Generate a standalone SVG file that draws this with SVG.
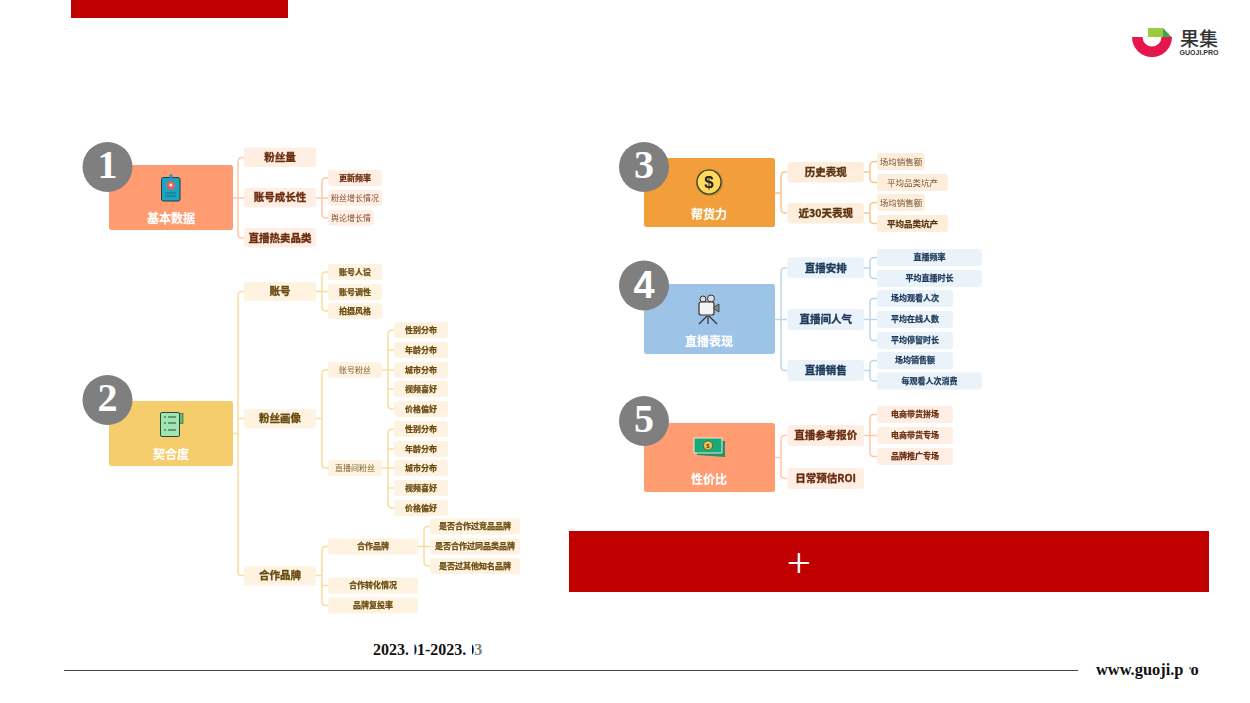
<svg xmlns="http://www.w3.org/2000/svg" width="1250" height="703" viewBox="0 0 1250 703">
<style>
text{font-family:"Noto Sans CJK SC","Noto Sans",sans-serif;text-anchor:middle;dominant-baseline:central;font-weight:700}
.n{filter:url(#b)}
.m,.b,.s,.s3{transform:translateY(-1px)}
.m{font-size:12px;fill:#fff;stroke:#fff;stroke-width:.2px}
.b{font-size:10.5px;stroke-width:.35px}.s,.s3{stroke-width:.25px}.s{font-size:8px}.s3{font-size:8.5px}
.thin{font-weight:400;opacity:.85;stroke:none !important}
.dg{font-family:"Liberation Serif",serif;font-size:40px;fill:#fff;dominant-baseline:auto;font-weight:700}
.ft{font-family:"Liberation Serif",serif;font-size:16px;fill:#111;text-anchor:start;dominant-baseline:auto}
.c{fill:none;stroke-width:1.5}
.or{fill:#ffeee4}.or+text{fill:#6b2e12;stroke:#6b2e12}
.ye{fill:#fdf3e0}.ye+text{fill:#6b4a10;stroke:#6b4a10}
.am{fill:#fdeedc}.am+text{fill:#5b3410;stroke:#5b3410}
.bl{fill:#eaf2fa}.bl+text{fill:#1e3a5a;stroke:#1e3a5a}
.badge{fill:#7f7f7f}
</style>
<defs><filter id="b" x="-10%" y="-30%" width="120%" height="160%"><feGaussianBlur stdDeviation="0.35"/></filter></defs>

<rect id="top-bar" x="71" y="0" width="217" height="18" fill="#c00000"/>
<g id="logo">
<path d="M1132 37H1142.500A9.500 9.500 0 0 0 1161.500 37H1172A20 20 0 0 1 1132 37Z" fill="#e8174b"/>
<path d="M1148 28H1163V37H1148Z" fill="#9ccb3b"/>
<path d="M1163 28L1171.500 37H1163Z" fill="#3aa655"/>
<text x="1199" y="37" style="font-size:19px;font-weight:500;fill:#333">果集</text>
<text x="1199" y="52" style="font-family:'Liberation Sans',sans-serif;font-size:7px;fill:#333">GUOJI.PRO</text>
</g>

<g id="connectors" class="n">
<g stroke="#ffc9a8" class="c">
<path class="c" d="M233 198H244M244 157.500H242Q238 157.500 238 161.500V234Q238 238 242 238H244"/>
<path class="c" d="M316 198H328M328 178H326Q322 178 322 182V214Q322 218 326 218H328"/>
<path class="c" d="M775 457.500H781M787 435.500H785Q781 435.500 781 439.500V474.500Q781 478.500 785 478.500H787"/>
<path class="c" d="M864 435.500H877M877 414.500H874Q870 414.500 870 418.500V452.500Q870 456.500 874 456.500H877"/>
</g>
<g stroke="#fbdd9b" class="c">
<path class="c" d="M233 433.500H238M244 291.500H242Q238 291.500 238 295.500V571.500Q238 575.500 242 575.500H244M238 418.500H244"/>
<path class="c" d="M316 291.500H328M328 272H326Q322 272 322 276V307Q322 311 326 311H328"/>
<path class="c" d="M316 418.500H322M328 370H326Q322 370 322 374V464Q322 468 326 468H328"/>
<path class="c" d="M382 370H394M394 330H392Q388 330 388 334V405Q388 409 392 409H394M388 350H394M388 389H394"/>
<path class="c" d="M382 468H394M394 429H392Q388 429 388 433V504Q388 508 392 508H394M388 449H394M388 488H394"/>
<path class="c" d="M316 575.500H322M328 546.500H326Q322 546.500 322 550.500V601.500Q322 605.500 326 605.500H328M322 585.500H328"/>
<path class="c" d="M418 546.500H430M430 526.500H428Q424 526.500 424 530.500V562Q424 566 428 566H430"/>
</g>
<g stroke="#f7c88f" class="c">
<path class="c" d="M775 193H781M787 172H785Q781 172 781 176V209Q781 213 785 213H787"/>
<path class="c" d="M864 172H870M877 161.500H874.500Q870 161.500 870 165.500V178.500Q870 182.500 874 182.500H877"/>
<path class="c" d="M864 213H870M877 202.500H874.500Q870 202.500 870 206.500V219.500Q870 223.500 874 223.500H877"/>
</g>
<g stroke="#bbd7ee" class="c">
<path class="c" d="M775 319.500H787M787 268H785Q781 268 781 272V366.500Q781 370.500 785 370.500H787"/>
<path class="c" d="M864 268H870M877 257.500H874.500Q870 257.500 870 261.500V274.500Q870 278.500 874 278.500H877"/>
<path class="c" d="M864 319.500H877M877 298.500H874Q870 298.500 870 302.500V336.500Q870 340.500 874 340.500H877"/>
<path class="c" d="M864 370.500H870M877 360.500H874.500Q870 360.500 870 364.500V377Q870 381 874 381H877"/>
</g>
</g>

<g id="root-1" class="n"><rect x="109" y="165" width="124" height="65" rx="2.500" fill="#ff9c71"/><text class="m" x="171" y="218">基本数据</text>
<rect x="161.500" y="177.500" width="18.500" height="23.500" rx="2" fill="#1fa5be" stroke="#1d3a4a"/><rect x="169.500" y="174" width="3" height="6" rx="1.500" fill="#2f8fc0"/><circle cx="170.800" cy="185.500" r="4.300" fill="#e85b5b"/><circle cx="170.800" cy="185" r="1.500" fill="#fff"/><path d="M165 193H176M165 196H176" stroke="#0f6f86"/></g>
<g id="badge-1"><circle class="badge" cx="107.500" cy="167" r="25"/><text class="dg" x="107.500" y="178">1</text></g>
<g id="n1-1" class="n"><rect class="or" x="244" y="147.500" width="72" height="19.500" rx="3"/><text class="b" x="280" y="157.500">粉丝量</text></g>
<g id="n1-2" class="n"><rect class="or" x="244" y="188" width="72" height="19.500" rx="3"/><text class="b" x="280" y="197.500">账号成长性</text></g>
<g id="n1-3" class="n"><rect class="or" x="244" y="228" width="72" height="19.500" rx="3"/><text class="b" x="280" y="238">直播热卖品类</text></g>
<g id="n1-2-1" class="n"><rect class="or" x="328" y="170" width="54" height="16" rx="3"/><text class="s" x="355" y="178">更新频率</text></g>
<g id="n1-2-2" class="n"><rect class="or" x="328" y="190" width="54" height="16" rx="3"/><text class="s thin" x="355" y="198">粉丝增长情况</text></g>
<g id="n1-2-3" class="n"><rect class="or" x="328" y="210" width="46" height="15.500" rx="3"/><text class="s thin" x="351" y="218">舆论增长情</text></g>

<g id="root-2" class="n"><rect x="109" y="401" width="124" height="65" rx="2.500" fill="#f6cd6d"/><text class="m" x="171" y="454">契合度</text>
<rect x="177" y="413.500" width="6" height="10" fill="#5bbf7a" stroke="#2b4a3c" stroke-width=".6"/><rect x="160.500" y="412.500" width="19" height="24" rx="1.500" fill="#9fe6b0" stroke="#2b4a3c"/><path d="M164 417H166M168 417H176M164 423H166M168 423H176M164 430H166M168 430H176" stroke="#2b4a3c"/></g>
<g id="badge-2"><circle class="badge" cx="107.500" cy="400" r="25"/><text class="dg" x="107.500" y="411">2</text></g>
<g id="n2-1" class="n"><rect class="ye" x="244" y="282" width="72" height="19" rx="3"/><text class="b" x="280" y="291.500">账号</text></g>
<g id="n2-2" class="n"><rect class="ye" x="244" y="409" width="72" height="19.500" rx="3"/><text class="b" x="280" y="418.500">粉丝画像</text></g>
<g id="n2-3" class="n"><rect class="ye" x="244" y="566" width="72" height="19.500" rx="3"/><text class="b" x="280" y="575.500">合作品牌</text></g>
<g id="n2-1-1" class="n"><rect class="ye" x="328" y="264" width="54" height="16" rx="3"/><text class="s" x="355" y="272">账号人设</text></g>
<g id="n2-1-2" class="n"><rect class="ye" x="328" y="284" width="54" height="16" rx="3"/><text class="s" x="355" y="292">账号调性</text></g>
<g id="n2-1-3" class="n"><rect class="ye" x="328" y="303" width="54" height="16" rx="3"/><text class="s" x="355" y="311">拍摄风格</text></g>
<g id="n2-2-1" class="n"><rect class="ye" x="328" y="362" width="54" height="16" rx="3"/><text class="s thin" x="355" y="370">账号粉丝</text></g>
<g id="n2-2-2" class="n"><rect class="ye" x="328" y="460" width="54" height="16" rx="3"/><text class="s thin" x="355" y="468">直播间粉丝</text></g>
<g id="n2-a1" class="n"><rect class="ye" x="394" y="322" width="54" height="16" rx="3"/><text class="s" x="421" y="330">性别分布</text></g>
<g id="n2-a2" class="n"><rect class="ye" x="394" y="342" width="54" height="16" rx="3"/><text class="s" x="421" y="350">年龄分布</text></g>
<g id="n2-a3" class="n"><rect class="ye" x="394" y="362" width="54" height="16" rx="3"/><text class="s" x="421" y="370">城市分布</text></g>
<g id="n2-a4" class="n"><rect class="ye" x="394" y="381" width="54" height="16" rx="3"/><text class="s" x="421" y="389">视频喜好</text></g>
<g id="n2-a5" class="n"><rect class="ye" x="394" y="401" width="54" height="16" rx="3"/><text class="s" x="421" y="409">价格偏好</text></g>
<g id="n2-b1" class="n"><rect class="ye" x="394" y="421" width="54" height="16" rx="3"/><text class="s" x="421" y="429">性别分布</text></g>
<g id="n2-b2" class="n"><rect class="ye" x="394" y="441" width="54" height="16" rx="3"/><text class="s" x="421" y="449">年龄分布</text></g>
<g id="n2-b3" class="n"><rect class="ye" x="394" y="460" width="54" height="16" rx="3"/><text class="s" x="421" y="468">城市分布</text></g>
<g id="n2-b4" class="n"><rect class="ye" x="394" y="480" width="54" height="16" rx="3"/><text class="s" x="421" y="488">视频喜好</text></g>
<g id="n2-b5" class="n"><rect class="ye" x="394" y="500" width="54" height="16" rx="3"/><text class="s" x="421" y="508">价格偏好</text></g>
<g id="n2-3-1" class="n"><rect class="ye" x="328" y="538.500" width="90" height="16" rx="3"/><text class="s" x="373" y="546.500">合作品牌</text></g>
<g id="n2-3-2" class="n"><rect class="ye" x="328" y="577.500" width="90" height="16" rx="3"/><text class="s" x="373" y="585.500">合作转化情况</text></g>
<g id="n2-3-3" class="n"><rect class="ye" x="328" y="597.500" width="90" height="16" rx="3"/><text class="s" x="373" y="605.500">品牌复投率</text></g>
<g id="n2-c1" class="n"><rect class="ye" x="430" y="518.500" width="90" height="16" rx="3"/><text class="s" x="475" y="526.500">是否合作过竞品品牌</text></g>
<g id="n2-c2" class="n"><rect class="ye" x="430" y="538.500" width="90" height="16" rx="3"/><text class="s" x="475" y="546.500">是否合作过同品类品牌</text></g>
<g id="n2-c3" class="n"><rect class="ye" x="430" y="558" width="90" height="16" rx="3"/><text class="s" x="475" y="566">是否过其他知名品牌</text></g>

<g id="root-3" class="n"><rect x="644" y="158" width="131" height="69" rx="2.500" fill="#f29f3b"/><text class="m" x="709" y="214">帮货力</text>
<circle cx="709.500" cy="182.500" r="13.500" fill="#b8902f"/><circle cx="709" cy="182" r="12" fill="#ffd95a" stroke="#333" stroke-width="1.200"/><text x="709" y="182" style="font-family:'Liberation Sans',sans-serif;font-size:17px;fill:#222">$</text></g>
<g id="badge-3"><circle class="badge" cx="644" cy="167" r="25"/><text class="dg" x="644" y="178">3</text></g>
<g id="n3-1" class="n"><rect class="am" x="787.500" y="162" width="76.500" height="20.500" rx="3"/><text class="b" x="825.700" y="172">历史表现</text></g>
<g id="n3-2" class="n"><rect class="am" x="787.500" y="203" width="76.500" height="20.500" rx="3"/><text class="b" x="825.700" y="213">近30天表现</text></g>
<g id="n3-1-1" class="n"><rect class="am" x="877" y="153" width="48" height="17" rx="3"/><text class="s3 thin" x="901" y="161.500">场均销售额</text></g>
<g id="n3-1-2" class="n"><rect class="am" x="877" y="174" width="71" height="17" rx="3"/><text class="s3 thin" x="912.500" y="182.500">平均品类坑产</text></g>
<g id="n3-2-1" class="n"><rect class="am" x="877" y="194" width="48" height="17" rx="3"/><text class="s3 thin" x="901" y="202.500">场均销售额</text></g>
<g id="n3-2-2" class="n"><rect class="am" x="877" y="215" width="71" height="17" rx="3"/><text class="s3" x="912.500" y="223.500">平均品类坑产</text></g>

<g id="root-4" class="n"><rect x="644" y="284" width="131" height="70" rx="2.500" fill="#9dc3e6"/><text class="m" x="709" y="341">直播表现</text>
<path d="M707 316L699 324M708 316V324M709 316L717 324" stroke="#333" stroke-width="1.200"/><circle cx="703" cy="299" r="3" fill="#ddd" stroke="#333"/><circle cx="711" cy="298.500" r="3.500" fill="#ddd" stroke="#333"/><rect x="699" y="302" width="15" height="13" rx="2" fill="#f4f4f4" stroke="#333" stroke-width="1.200"/><path d="M714 307L719 304V312L714 309Z" fill="#888" stroke="#333" stroke-width=".8"/></g>
<g id="badge-4"><circle class="badge" cx="644" cy="285.500" r="25"/><text class="dg" x="644" y="298" style="font-family:'Liberation Sans',sans-serif;font-size:38px">4</text></g>
<g id="n4-1" class="n"><rect class="bl" x="787.500" y="257.500" width="76.500" height="20.500" rx="3"/><text class="b" x="825.700" y="268">直播安排</text></g>
<g id="n4-2" class="n"><rect class="bl" x="787.500" y="309" width="76.500" height="21" rx="3"/><text class="b" x="825.700" y="319.500">直播间人气</text></g>
<g id="n4-3" class="n"><rect class="bl" x="787.500" y="360" width="76.500" height="21" rx="3"/><text class="b" x="825.700" y="370.500">直播销售</text></g>
<g id="n4-1-1" class="n"><rect class="bl" x="877" y="249" width="105" height="17" rx="3"/><text class="s" x="929.500" y="257.500">直播频率</text></g>
<g id="n4-1-2" class="n"><rect class="bl" x="877" y="270" width="105" height="17" rx="3"/><text class="s" x="929.500" y="278.500">平均直播时长</text></g>
<g id="n4-2-1" class="n"><rect class="bl" x="877" y="290" width="76" height="17" rx="3"/><text class="s" x="915" y="298.500">场均观看人次</text></g>
<g id="n4-2-2" class="n"><rect class="bl" x="877" y="311" width="76" height="17" rx="3"/><text class="s" x="915" y="319.500">平均在线人数</text></g>
<g id="n4-2-3" class="n"><rect class="bl" x="877" y="332" width="76" height="17" rx="3"/><text class="s" x="915" y="340.500">平均停留时长</text></g>
<g id="n4-3-1" class="n"><rect class="bl" x="877" y="352" width="76" height="17" rx="3"/><text class="s" x="915" y="360.500">场均销售额</text></g>
<g id="n4-3-2" class="n"><rect class="bl" x="877" y="372.500" width="105" height="17" rx="3"/><text class="s" x="929.500" y="381">每观看人次消费</text></g>

<g id="root-5" class="n"><rect x="644" y="423" width="131" height="69" rx="2.500" fill="#ff9c71"/><text class="m" x="709" y="479">性价比</text>
<path d="M697 439L725 441V457L697 455Z" fill="#2a8f66"/><path d="M694 438H722V453H694Z" fill="#1fa97a" stroke="#fff" stroke-width=".8"/><circle cx="708" cy="445.500" r="4.500" fill="#f5c842" stroke="#333" stroke-width=".6"/><text x="708" y="445.500" style="font-family:'Liberation Sans',sans-serif;font-size:6px;fill:#333">$</text></g>
<g id="badge-5"><circle class="badge" cx="644" cy="421" r="25"/><text class="dg" x="644" y="432">5</text></g>
<g id="n5-1" class="n"><rect class="or" x="787.500" y="425" width="76.500" height="21" rx="3"/><text class="b" x="825.700" y="435.500">直播参考报价</text></g>
<g id="n5-2" class="n"><rect class="or" x="787.500" y="468" width="76.500" height="21" rx="3"/><text class="b" x="825.700" y="478.500">日常预估ROI</text></g>
<g id="n5-1-1" class="n"><rect class="or" x="877" y="406" width="76" height="17" rx="3"/><text class="s" x="915" y="414.500">电商带货拼场</text></g>
<g id="n5-1-2" class="n"><rect class="or" x="877" y="427" width="76" height="17" rx="3"/><text class="s" x="915" y="435.500">电商带货专场</text></g>
<g id="n5-1-3" class="n"><rect class="or" x="877" y="448" width="76" height="17" rx="3"/><text class="s" x="915" y="456.500">品牌推广专场</text></g>

<g id="red-panel"><rect x="569" y="531" width="640" height="61" fill="#c00000"/><text x="799" y="577" style="font-family:'Liberation Serif',serif;font-size:43px;font-weight:400;fill:#fff;dominant-baseline:auto">+</text></g>

<g id="footer">
<line x1="64" y1="670.500" x2="1078" y2="670.500" stroke="#444" stroke-width="1"/>
<text class="ft" x="373" y="655" style="font-weight:700">2023.01-2023.03</text>
<rect x="408.500" y="642" width="6" height="16" fill="#fff"/><rect x="466" y="642" width="6" height="16" fill="#fff"/><rect x="474" y="642" width="8.500" height="16" fill="#fff" opacity=".45"/>
<text class="ft" x="1096" y="675" style="font-weight:700;font-size:16.400px">www.guoji.pro</text>
<rect x="1184" y="660" width="5.500" height="18" fill="#fff"/>
</g>
</svg>
